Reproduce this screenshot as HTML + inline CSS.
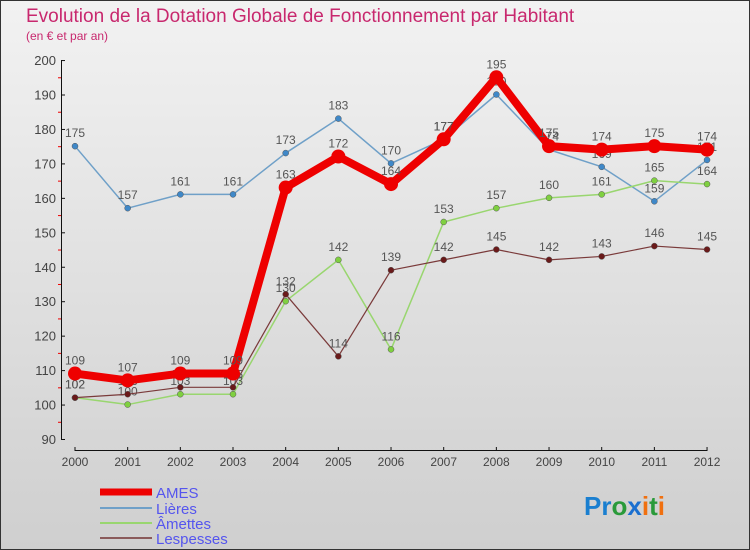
<!DOCTYPE html>
<html><head><meta charset="utf-8"><style>
body{margin:0;}
#c{width:750px;height:550px;position:relative;background:linear-gradient(#f2f2f2,#cfcfcf);font-family:"Liberation Sans",sans-serif;box-sizing:border-box;border:1px solid #333;overflow:hidden}
</style></head><body>
<div id="c">
<svg width="750" height="550" style="position:absolute;left:-1px;top:-1px" id="svg">
<text x="26" y="22" font-size="19" fill="#c8286e">Evolution de la Dotation Globale de Fonctionnement par Habitant</text>
<text x="26" y="40" font-size="12" fill="#c8286e">(en € et par an)</text>
<g id="axes"></g><g id="series"></g>
<g>
<line x1="100" y1="492" x2="152" y2="492" stroke="#ee0000" stroke-width="7"/>
<text x="156" y="498" font-size="15" fill="#5555ee">AMES</text>
<line x1="100" y1="508" x2="152" y2="508" stroke="#6fa0c8" stroke-width="2"/>
<text x="156" y="514" font-size="15" fill="#5555ee">Lières</text>
<line x1="100" y1="523" x2="152" y2="523" stroke="#99d66f" stroke-width="2"/>
<text x="156" y="529" font-size="15" fill="#5555ee">Âmettes</text>
<line x1="100" y1="538" x2="152" y2="538" stroke="#8a5a5a" stroke-width="2"/>
<text x="156" y="544" font-size="15" fill="#5555ee">Lespesses</text>
</g>
<text x="584" y="515" font-size="26" font-weight="bold"><tspan fill="#1a7fd0">Pr</tspan><tspan fill="#2a9a3a">o</tspan><tspan fill="#1a6fd0">x</tspan><tspan fill="#f07010">i</tspan><tspan fill="#2a9a3a">t</tspan><tspan fill="#f07010">i</tspan></text>
</svg>
</div>
<script>
const years=[2000,2001,2002,2003,2004,2005,2006,2007,2008,2009,2010,2011,2012];
const ames=[109,107,109,109,163,172,164,177,195,175,174,175,174];
const lieres=[175,157,161,161,173,183,170,177,190,174,169,159,171];
const amettes=[102,100,103,103,130,142,116,153,157,160,161,165,164];
const lespesses=[102,103,105,105,132,114,139,142,145,142,143,146,145];
const yTicks=[90,100,110,120,130,140,150,160,170,180,190,200];
const NS="http://www.w3.org/2000/svg";
const X=i=>75+i*52.67, Y=v=>439-(v-90)*3.445;
function mk(t,a,p){const e=document.createElementNS(NS,t);for(const k in a)e.setAttribute(k,a[k]);p.appendChild(e);return e;}
const ax=document.getElementById('axes');
const yl=mk('line',{x1:61.5,y1:Y(200),x2:61.5,y2:Y(90),stroke:'#111'},ax);


const xl=mk('line',{x1:X(0),y1:450.5,x2:X(12),y2:450.5,stroke:'#111'},ax);


yTicks.forEach(v=>{
  const t=mk('text',{x:56,y:Y(v)+5,'font-size':13,fill:'#444','text-anchor':'end'},ax);t.textContent=v;
  
  
  mk('line',{x1:61,y1:Y(v)+0.5,x2:65,y2:Y(v)+0.5,stroke:'#111'},ax);
  if(v<200)mk('line',{x1:58,y1:Y(v+5)+0.5,x2:61,y2:Y(v+5)+0.5,stroke:'#e00'},ax);
});
years.forEach((y,i)=>{
  mk('line',{x1:X(i),y1:447,x2:X(i),y2:451,stroke:'#111'},ax);
  const t=mk('text',{x:X(i),y:466,'font-size':12,fill:'#444','text-anchor':'middle'},ax);t.textContent=y;
  
  
});
const sg=document.getElementById('series');
function series(name,vals,col,w,r,fill){
  const g=mk('g',{},sg);
  
  
  mk('polyline',{points:vals.map((v,i)=>X(i)+','+Y(v)).join(' '),fill:'none',stroke:col,'stroke-width':w,'stroke-linejoin':'round'},g);
  vals.forEach((v,i)=>{
    const c=mk('circle',{cx:X(i),cy:Y(v),r:r,fill:fill,stroke:r>4?'none':'#555','stroke-width':0.5},g);
    
    
    const t=mk('text',{x:X(i),y:Y(v)-9,'font-size':12,fill:'#555','text-anchor':'middle'},g);t.textContent=v;
    
    
  });
}
series('lieres',lieres,'#6fa0c8',1.5,3,'#3f88c8');
series('amettes',amettes,'#99d66f',1.5,3,'#7fd040');
series('lespesses',lespesses,'#7a3a3a',1.2,3,'#6a1a1a');
series('ames',ames,'#ee0000',8,7,'#ee0000');
</script>
</body></html>
